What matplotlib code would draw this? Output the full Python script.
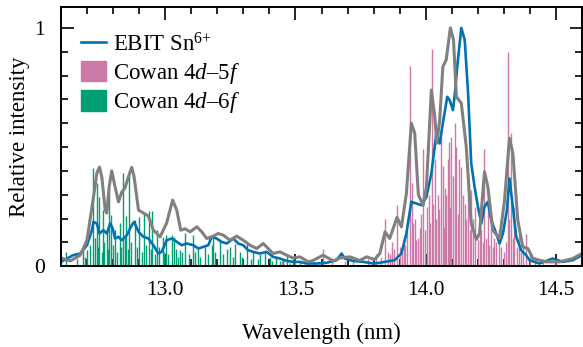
import matplotlib
matplotlib.use("Agg")
import matplotlib.pyplot as plt
from matplotlib.lines import Line2D
from matplotlib.patches import Patch
from matplotlib.ticker import MultipleLocator

plt.rcParams['font.family'] = ['Liberation Serif', 'DejaVu Serif']
plt.rcParams['mathtext.fontset'] = 'custom'
plt.rcParams['mathtext.rm'] = 'Liberation Serif'
plt.rcParams['mathtext.it'] = 'Liberation Serif:italic'

# EBIT measured spectrum (blue)
ebit_wl = [12.600, 12.619, 12.646, 12.673, 12.699, 12.718, 12.724, 12.737, 12.747, 12.762,
           12.775, 12.788, 12.798, 12.807, 12.820, 12.833, 12.852, 12.871, 12.880, 12.897,
           12.916, 12.935, 12.954, 12.973, 12.986, 13.005, 13.025, 13.044, 13.063, 13.082,
           13.107, 13.127, 13.146, 13.165, 13.178, 13.197, 13.216, 13.236, 13.261, 13.280,
           13.299, 13.318, 13.338, 13.363, 13.389, 13.414, 13.440, 13.466, 13.491, 13.517,
           13.542, 13.581, 13.619, 13.658, 13.677, 13.689, 13.721, 13.760, 13.798, 13.824,
           13.843, 13.881, 13.907, 13.926, 13.945, 13.958, 13.984, 14.003, 14.022, 14.041,
           14.054, 14.066, 14.083, 14.092, 14.105, 14.111, 14.124, 14.137, 14.150, 14.163,
           14.175, 14.188, 14.201, 14.214, 14.226, 14.239, 14.252, 14.271, 14.284, 14.297,
           14.312, 14.322, 14.335, 14.348, 14.367, 14.386, 14.399, 14.437, 14.488, 14.527,
           14.565, 14.600]
ebit_int = [0.018, 0.030, 0.046, 0.053, 0.088, 0.151, 0.186, 0.179, 0.137, 0.151,
            0.137, 0.179, 0.158, 0.116, 0.123, 0.109, 0.130, 0.172, 0.186, 0.144,
            0.123, 0.116, 0.088, 0.053, 0.060, 0.109, 0.116, 0.102, 0.088, 0.095,
            0.088, 0.074, 0.081, 0.088, 0.123, 0.116, 0.102, 0.095, 0.116, 0.095,
            0.088, 0.067, 0.060, 0.053, 0.060, 0.039, 0.032, 0.022, 0.018, 0.018,
            0.011, 0.011, 0.014, 0.025, 0.053, 0.032, 0.022, 0.018, 0.011, 0.014,
            0.018, 0.025, 0.053, 0.137, 0.270, 0.265, 0.256, 0.291, 0.389, 0.557,
            0.515, 0.600, 0.711, 0.697, 0.655, 0.711, 0.866, 1.000, 0.950, 0.726,
            0.432, 0.333, 0.249, 0.180, 0.249, 0.270, 0.193, 0.137, 0.095, 0.137,
            0.235, 0.368, 0.249, 0.123, 0.067, 0.046, 0.025, 0.011, 0.032, 0.018,
            0.025, 0.046]

# convolved Cowan spectrum (gray)
conv_wl = [12.600, 12.635, 12.673, 12.699, 12.724, 12.737, 12.747, 12.756, 12.769, 12.775,
           12.784, 12.794, 12.807, 12.820, 12.833, 12.845, 12.858, 12.871, 12.880, 12.897,
           12.916, 12.935, 12.954, 12.980, 13.005, 13.028, 13.044, 13.059, 13.076, 13.095,
           13.121, 13.140, 13.159, 13.184, 13.203, 13.223, 13.248, 13.274, 13.299, 13.325,
           13.351, 13.376, 13.395, 13.414, 13.440, 13.466, 13.491, 13.517, 13.549, 13.568,
           13.606, 13.645, 13.670, 13.709, 13.747, 13.773, 13.804, 13.824, 13.844, 13.862,
           13.890, 13.907, 13.926, 13.945, 13.958, 13.972, 13.990, 14.003, 14.022, 14.035,
           14.043, 14.054, 14.066, 14.079, 14.095, 14.107, 14.118, 14.137, 14.156, 14.175,
           14.195, 14.207, 14.226, 14.239, 14.258, 14.284, 14.303, 14.322, 14.335, 14.354,
           14.373, 14.393, 14.412, 14.463, 14.514, 14.565, 14.600]
conv_int = [0.034, 0.022, 0.046, 0.109, 0.290, 0.391, 0.416, 0.374, 0.235, 0.223,
            0.332, 0.400, 0.332, 0.270, 0.312, 0.328, 0.375, 0.415, 0.375, 0.235,
            0.223, 0.210, 0.151, 0.123, 0.181, 0.277, 0.235, 0.151, 0.157, 0.144,
            0.165, 0.144, 0.116, 0.126, 0.137, 0.130, 0.109, 0.126, 0.109, 0.088,
            0.074, 0.095, 0.074, 0.053, 0.060, 0.046, 0.034, 0.039, 0.018, 0.024,
            0.046, 0.022, 0.034, 0.039, 0.024, 0.039, 0.028, 0.053, 0.144, 0.116,
            0.205, 0.165, 0.305, 0.600, 0.558, 0.300, 0.255, 0.333, 0.739, 0.627,
            0.516, 0.613, 0.837, 0.866, 1.000, 0.950, 0.711, 0.684, 0.501, 0.179,
            0.112, 0.137, 0.396, 0.333, 0.151, 0.116, 0.277, 0.537, 0.474, 0.193,
            0.081, 0.074, 0.032, 0.018, 0.018, 0.032, 0.053]

# Cowan 4d-5f lines (pink)
f5_wl = [13.450, 13.500, 13.550, 13.604, 13.640, 13.689, 13.720, 13.780, 13.810, 13.830,
         13.844, 13.855, 13.862, 13.870, 13.880, 13.891, 13.900, 13.908, 13.915, 13.920,
         13.930, 13.940, 13.946, 13.952, 13.958, 13.964, 13.970, 13.978, 13.984, 13.990,
         13.996, 14.004, 14.012, 14.018, 14.024, 14.030, 14.035, 14.040, 14.046, 14.052,
         14.060, 14.066, 14.070, 14.075, 14.079, 14.085, 14.090, 14.094, 14.099, 14.104,
         14.111, 14.118, 14.124, 14.130, 14.137, 14.144, 14.150, 14.156, 14.163, 14.169,
         14.175, 14.181, 14.190, 14.201, 14.207, 14.213, 14.220, 14.226, 14.232, 14.239,
         14.245, 14.252, 14.258, 14.264, 14.271, 14.280, 14.290, 14.300, 14.308, 14.316,
         14.322, 14.329, 14.335, 14.341, 14.350, 14.360, 14.368, 14.375, 14.386, 14.400,
         14.420, 14.450, 14.500]
f5_int = [0.020, 0.025, 0.020, 0.074, 0.030, 0.020, 0.020, 0.030, 0.050, 0.040,
          0.200, 0.060, 0.050, 0.100, 0.070, 0.255, 0.080, 0.060, 0.120, 0.090,
          0.150, 0.840, 0.347, 0.180, 0.200, 0.110, 0.120, 0.160, 0.220, 0.490,
          0.150, 0.250, 0.300, 0.180, 0.910, 0.260, 0.450, 0.200, 0.300, 0.240,
          0.570, 0.420, 0.160, 0.330, 0.300, 0.450, 0.520, 0.250, 0.540, 0.380,
          0.600, 0.500, 0.220, 0.450, 0.417, 0.300, 0.260, 0.200, 0.360, 0.150,
          0.320, 0.200, 0.250, 0.109, 0.180, 0.150, 0.100, 0.490, 0.120, 0.305,
          0.090, 0.193, 0.080, 0.120, 0.100, 0.150, 0.080, 0.060, 0.100, 0.900,
          0.200, 0.557, 0.120, 0.249, 0.080, 0.130, 0.060, 0.080, 0.137, 0.060,
          0.040, 0.030, 0.020]

# Cowan 4d-6f lines (green)
f6_wl = [12.619, 12.660, 12.684, 12.690, 12.700, 12.710, 12.724, 12.730, 12.737, 12.742,
         12.747, 12.755, 12.761, 12.765, 12.775, 12.780, 12.785, 12.792, 12.800, 12.805,
         12.815, 12.824, 12.830, 12.839, 12.845, 12.849, 12.855, 12.862, 12.870, 12.884,
         12.890, 12.900, 12.910, 12.918, 12.925, 12.939, 12.945, 12.948, 12.960, 12.968,
         12.975, 12.990, 12.995, 13.003, 13.010, 13.025, 13.035, 13.040, 13.050, 13.056,
         13.065, 13.076, 13.090, 13.105, 13.115, 13.127, 13.135, 13.152, 13.165, 13.178,
         13.184, 13.190, 13.210, 13.220, 13.236, 13.248, 13.260, 13.268, 13.287, 13.295,
         13.312, 13.330, 13.338, 13.355, 13.363, 13.383, 13.402, 13.410, 13.427, 13.440,
         13.453, 13.466, 13.480, 13.491, 13.517]
f6_int = [0.060, 0.030, 0.067, 0.040, 0.067, 0.090, 0.410, 0.120, 0.350, 0.080,
          0.290, 0.060, 0.235, 0.100, 0.151, 0.070, 0.330, 0.215, 0.090, 0.150,
          0.060, 0.180, 0.080, 0.390, 0.120, 0.210, 0.070, 0.390, 0.100, 0.193,
          0.080, 0.206, 0.060, 0.221, 0.090, 0.230, 0.070, 0.230, 0.050, 0.151,
          0.080, 0.123, 0.060, 0.130, 0.050, 0.130, 0.123, 0.070, 0.040, 0.067,
          0.060, 0.139, 0.050, 0.130, 0.060, 0.074, 0.040, 0.081, 0.050, 0.088,
          0.123, 0.060, 0.109, 0.050, 0.074, 0.081, 0.040, 0.095, 0.060, 0.040,
          0.095, 0.030, 0.060, 0.030, 0.053, 0.060, 0.039, 0.020, 0.039, 0.020,
          0.032, 0.046, 0.015, 0.032, 0.018]

blue = '#0072B2'
pink = '#CC79A7'
green = '#009E73'
gray = '#808080'

fig = plt.figure(figsize=(5.83, 3.47), dpi=100)
ax = fig.add_axes([0.105, 0.233, 0.893, 0.747])

ax.vlines(f5_wl, 0, f5_int, color=pink, lw=1.0)
ax.vlines(f6_wl, 0, f6_int, color=green, lw=1.0)
ax.plot(ebit_wl, ebit_int, color=blue, lw=1.9, solid_joinstyle='round')
ax.plot(conv_wl, conv_int, color=gray, lw=2.2, solid_joinstyle='round')

ax.set_xlim(12.6, 14.6)
ax.set_ylim(0, 1.088)
ax.set_xticks([13.0, 13.5, 14.0, 14.5])
ax.set_xticklabels(['13.0', '13.5', '14.0', '14.5'])
ax.set_yticks([0, 1])
ax.set_yticklabels(['0', '1'])
ax.xaxis.set_minor_locator(MultipleLocator(0.1))
ax.yaxis.set_minor_locator(MultipleLocator(0.1))
ax.tick_params(which='both', direction='in', top=True, right=True, width=1.2, labelsize=15.5)
ax.tick_params(which='major', length=9)
ax.tick_params(axis='x', which='major', pad=11)
ax.tick_params(axis='y', which='major', pad=12)
ax.tick_params(which='minor', length=5)
for s in ax.spines.values():
    s.set_linewidth(1.4)

ax.set_xlabel('Wavelength (nm)', fontsize=16.5, labelpad=16)
ax.set_ylabel('Relative intensity', fontsize=16.5, labelpad=3)

handles = [Line2D([], [], color=blue, lw=1.9),
           Patch(color=pink), Patch(color=green)]
labels = ['EBIT Sn$^{6{+}}$', 'Cowan 4$d$\u20135$f$', 'Cowan 4$d$\u20136$f$']
ax.legend(handles, labels, loc='upper left', bbox_to_anchor=(0.0, 0.975),
          frameon=False, fontsize=16.5,
          handlelength=1.1, handleheight=1.0, handletextpad=0.3, labelspacing=0.2,
          borderaxespad=0.45)

fig.savefig('out.png', dpi=100)
